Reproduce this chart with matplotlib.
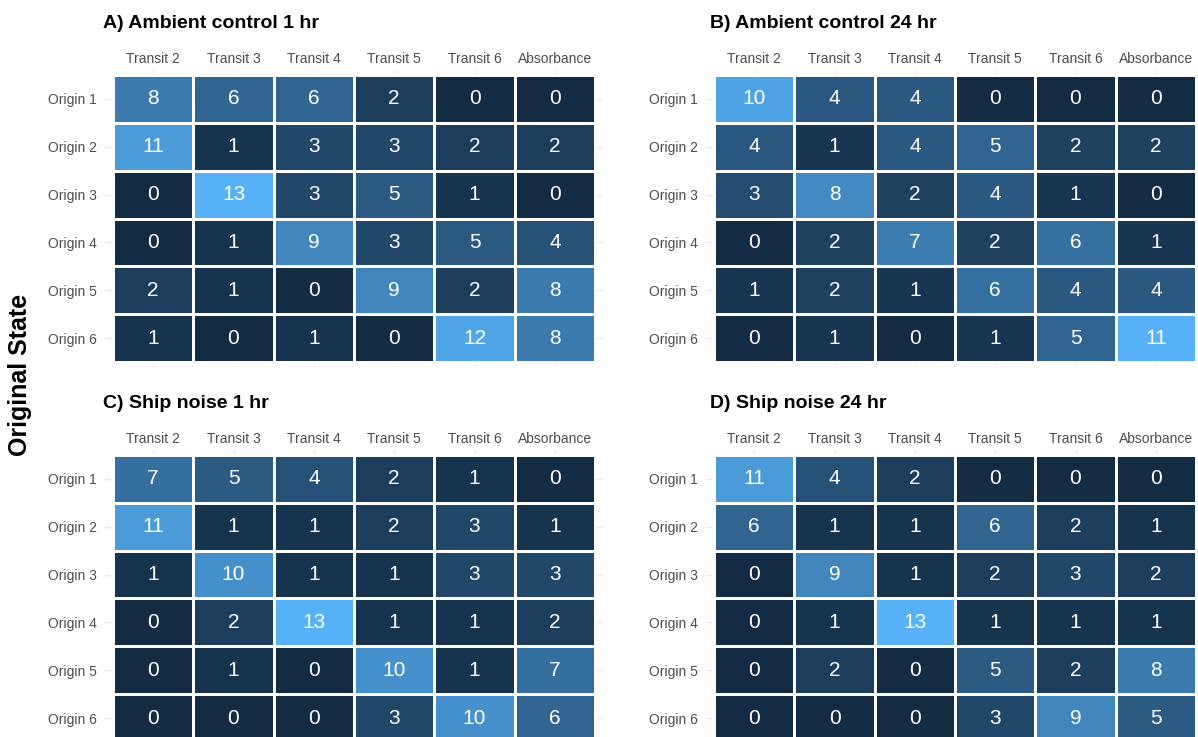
import numpy as np
import matplotlib
matplotlib.use("Agg")
import matplotlib.pyplot as plt
from matplotlib.colors import ListedColormap, Normalize

plt.rcParams["font.family"] = ["Liberation Sans", "DejaVu Sans"]

# ---- data ---------------------------------------------------------------
columns = ["Transit 2", "Transit 3", "Transit 4", "Transit 5", "Transit 6", "Absorbance"]
rows = ["Origin 1", "Origin 2", "Origin 3", "Origin 4", "Origin 5", "Origin 6"]

titles = ["A) Ambient control 1 hr", "B) Ambient control 24 hr",
          "C) Ship noise 1 hr", "D) Ship noise 24 hr"]

ambient_1hr = [
    [8, 6, 6, 2, 0, 0],
    [11, 1, 3, 3, 2, 2],
    [0, 13, 3, 5, 1, 0],
    [0, 1, 9, 3, 5, 4],
    [2, 1, 0, 9, 2, 8],
    [1, 0, 1, 0, 12, 8],
]
ambient_24hr = [
    [10, 4, 4, 0, 0, 0],
    [4, 1, 4, 5, 2, 2],
    [3, 8, 2, 4, 1, 0],
    [0, 2, 7, 2, 6, 1],
    [1, 2, 1, 6, 4, 4],
    [0, 1, 0, 1, 5, 11],
]
ship_1hr = [
    [7, 5, 4, 2, 1, 0],
    [11, 1, 1, 2, 3, 1],
    [1, 10, 1, 1, 3, 3],
    [0, 2, 13, 1, 1, 2],
    [0, 1, 0, 10, 1, 7],
    [0, 0, 0, 3, 10, 6],
]
ship_24hr = [
    [11, 4, 2, 0, 0, 0],
    [6, 1, 1, 6, 2, 1],
    [0, 9, 1, 2, 3, 2],
    [0, 1, 13, 1, 1, 1],
    [0, 2, 0, 5, 2, 8],
    [0, 0, 0, 3, 9, 5],
]
panels = [ambient_1hr, ambient_24hr, ship_1hr, ship_24hr]


# ---- colour scale: dark navy -> light blue, interpolated in CIELAB -------
def _hex_to_rgb(h):
    h = h.lstrip("#")
    return np.array([int(h[i:i + 2], 16) / 255 for i in (0, 2, 4)])


_WHITE = np.array([0.95047, 1.0, 1.08883])
_M = np.array([[0.4124564, 0.3575761, 0.1804375],
               [0.2126729, 0.7151522, 0.0721750],
               [0.0193339, 0.1191920, 0.9503041]])


def _rgb_to_lab(rgb):
    lin = np.where(rgb <= 0.04045, rgb / 12.92, ((rgb + 0.055) / 1.055) ** 2.4)
    xyz = _M @ lin / _WHITE
    f = np.where(xyz > (6 / 29) ** 3, np.cbrt(xyz), xyz / (3 * (6 / 29) ** 2) + 4 / 29)
    return np.array([116 * f[1] - 16, 500 * (f[0] - f[1]), 200 * (f[1] - f[2])])


def _lab_to_rgb(lab):
    fy = (lab[0] + 16) / 116
    fx = fy + lab[1] / 500
    fz = fy - lab[2] / 200
    f = np.array([fx, fy, fz])
    xyz = np.where(f > 6 / 29, f ** 3, 3 * (6 / 29) ** 2 * (f - 4 / 29)) * _WHITE
    lin = np.linalg.solve(_M, xyz)
    lin = np.clip(lin, 0, 1)
    rgb = np.where(lin <= 0.0031308, 12.92 * lin, 1.055 * lin ** (1 / 2.4) - 0.055)
    return np.clip(rgb, 0, 1)


lab_lo = _rgb_to_lab(_hex_to_rgb("#132B43"))
lab_hi = _rgb_to_lab(_hex_to_rgb("#56B1F7"))
cmap = ListedColormap([_lab_to_rgb(lab_lo + t * (lab_hi - lab_lo))
                       for t in np.linspace(0, 1, 256)])

# ---- layout (pixel geometry of the tile blocks) -------------------------
W, H = 1198, 737
fig = plt.figure(figsize=(W / 100, H / 100), dpi=100)
fig.patch.set_facecolor("white")

cell_w = (595 - 113) / 6
cell_h = (362 - 75) / 6
pad = 0.1  # expansion around the tiles, in cell units
tile_origins = [(113, 75), (714, 75), (113, 455), (714, 455)]
title_pos = [(103, 28), (710, 28), (103, 408), (710, 408)]

for k, (data, title) in enumerate(zip(panels, titles)):
    vals = np.array(data, dtype=float)
    tx, ty = tile_origins[k]
    left = tx - pad * cell_w
    top = ty - pad * cell_h
    aw = (6 + 2 * pad) * cell_w
    ah = (6 + 2 * pad) * cell_h
    ax = fig.add_axes([left / W, 1 - (top + ah) / H, aw / W, ah / H])
    ax.set_facecolor("white")
    ax.set_axisbelow(True)

    norm = Normalize(vmin=vals.min(), vmax=vals.max())
    xe = np.arange(len(columns) + 1) - 0.5
    ye = np.arange(len(rows) + 1) - 0.5
    ax.pcolormesh(xe, ye, vals, cmap=cmap, norm=norm,
                  edgecolors="white", linewidth=1.0, zorder=2)
    for i in range(len(rows)):
        for j in range(len(columns)):
            ax.text(j, i, f"{int(vals[i, j])}", ha="center", va="center",
                    color="white", fontsize=15, zorder=3)

    ax.set_xlim(-0.5 - pad, len(columns) - 0.5 + pad)
    ax.set_ylim(len(rows) - 0.5 + pad, -0.5 - pad)
    ax.set_xticks(range(len(columns)))
    ax.set_xticklabels(columns)
    ax.set_yticks(range(len(rows)))
    ax.set_yticklabels(rows)
    ax.xaxis.tick_top()
    ax.tick_params(axis="x", length=0, pad=3, labelsize=10, labelcolor="#4D4D4D")
    ax.tick_params(axis="y", length=0, pad=6, labelsize=10, labelcolor="#4D4D4D")
    ax.grid(True, color="#EBEBEB", linewidth=1.0)
    for s in ax.spines.values():
        s.set_visible(False)

    px, py = title_pos[k]
    fig.text(px / W, 1 - py / H, title, fontsize=14, fontweight="bold",
             ha="left", va="baseline", color="black")

fig.text(20 / W, 1 - 375 / H, "Original State", rotation=90, fontsize=18,
         fontweight="bold", ha="center", va="center", color="black")

fig.savefig("out.png", dpi=100, facecolor="white")
